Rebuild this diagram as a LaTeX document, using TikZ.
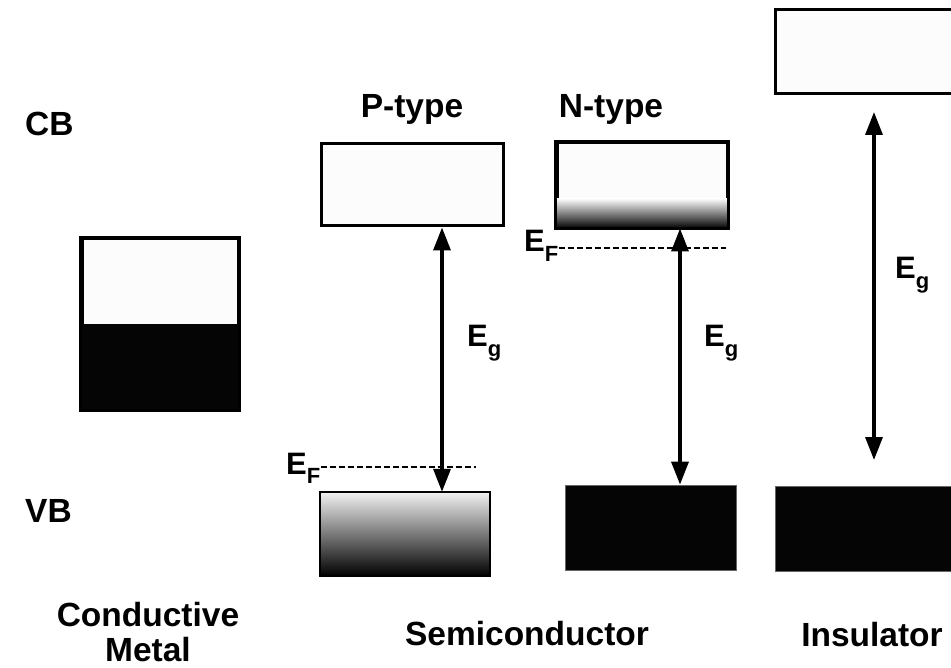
\documentclass[tikz,border=0pt]{standalone}
\usepackage{fontspec}
\setmainfont{Liberation Sans}
\usetikzlibrary{arrows.meta}
\begin{document}
\begin{tikzpicture}[x=1pt,y=-1pt,
  lbl/.style={font=\fontsize{33.5}{38}\selectfont\bfseries, inner sep=0pt},
  sym/.style={font=\fontsize{31}{36}\selectfont\bfseries, inner sep=0pt, anchor=base west},
  band/.style={draw=black, line width=3pt, inner sep=0pt, fill=white!99!black},
  fullband/.style={draw=black!60, line width=0.8pt, inner sep=0pt, fill=black!98},
  dbl/.style={line width=3.5pt, {Triangle[width=17pt,length=23pt]}-{Triangle[width=17pt,length=23pt]}},
  fermi/.style={line width=1.3pt, dash pattern=on 6pt off 3pt}]
\useasboundingbox (0,0) rectangle (951,668);
\clip (0,0) rectangle (951,668);
\fill[white] (0,0) rectangle (951,668);

% side labels
\node[lbl, anchor=base west] (cb) at (25,136) {CB};
\node[lbl, anchor=base west] (vb) at (25,522) {VB};
\node[lbl, anchor=base] (ptype) at (412,118) {P-type};
\node[lbl, anchor=base] (ntype) at (611,118) {N-type};
\node[lbl, anchor=base] (cond) at (148,626) {Conductive};
\node[lbl, anchor=base] (metal) at (148,661) {Metal};
\node[lbl, anchor=base] (semi) at (527,645) {Semiconductor};
\node[lbl, anchor=base] (ins) at (872,646) {Insulator};

% conductive metal
\node[band, minimum width=156pt, minimum height=170pt] (mbox) at (160,324) {};
\fill[black!98] (mbox.west) rectangle (mbox.south east);
\draw[line width=3pt] (mbox.north west) rectangle (mbox.south east);

% P-type
\node[band, minimum width=182pt, minimum height=82pt] (pcb) at (412,185) {};
\node[inner sep=0pt, minimum width=170pt, minimum height=84pt] (pvb) at (405,534) {};
\shade[top color=white!95!black, bottom color=black] (pvb.north west) rectangle (pvb.south east);
\draw[line width=2pt] (pvb.north west) rectangle (pvb.south east);

% N-type
\node[band, minimum width=170pt, minimum height=84pt] (ncb) at (642,185) {};
\shade[top color=white!98!black, bottom color=black] (ncb.west |- 0,199) rectangle (ncb.south east);
\draw[line width=3pt] (ncb.north west) rectangle (ncb.south east);
\node[fullband, minimum width=171pt, minimum height=85pt] (nvb) at (650.5,527.5) {};

% Insulator
\node[band, minimum width=225pt, minimum height=84pt] (icb) at (887.5,52) {};
\node[fullband, minimum width=225pt, minimum height=85pt] (ivb) at (887.5,528.5) {};

% gap arrows
\coordinate (pa) at (442,0);
\coordinate (na) at (680,0);
\coordinate (itop) at (874,112);
\coordinate (ibot) at (874,460);
\draw[dbl] (pcb.south -| pa) -- (pvb.north -| pa);
\draw[dbl] (ncb.south -| na) -- (nvb.north -| na);
\draw[dbl] (itop) -- (ibot);

% Fermi levels
\node[sym] (pef) at (286,474) {E\raisebox{-0.3em}{\fontsize{22}{26}\selectfont F}};
\coordinate (pefend) at (476,467);
\draw[fermi] (pef.east |- pefend) -- (pefend);
\node[sym] (nef) at (524,252) {E\raisebox{-0.3em}{\fontsize{22}{26}\selectfont F}};
\coordinate (nefend) at (726,248);
\draw[fermi] (nef.east |- nefend) -- (nefend);

% gap labels
\node[sym] (peg) at (467,347) {E\raisebox{-0.3em}{\fontsize{22}{26}\selectfont g}};
\node[sym] (neg) at (704,347) {E\raisebox{-0.3em}{\fontsize{22}{26}\selectfont g}};
\node[sym] (ieg) at (895,279) {E\raisebox{-0.3em}{\fontsize{22}{26}\selectfont g}};
\end{tikzpicture}
\end{document}
